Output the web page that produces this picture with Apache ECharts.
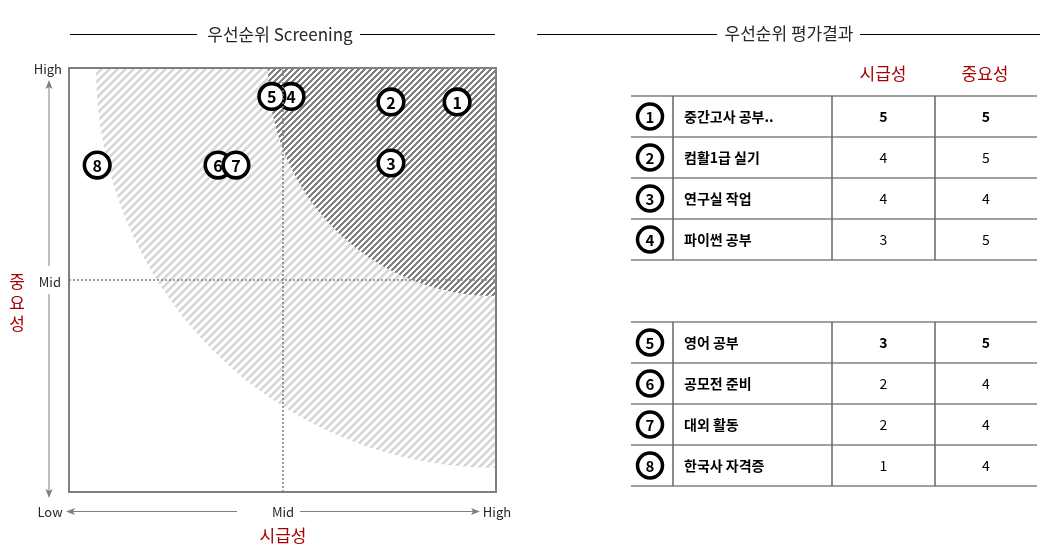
<!DOCTYPE html>
<html><head><meta charset="utf-8">
<script src="https://cdn.jsdelivr.net/npm/echarts@6/dist/echarts.min.js"></script>
<style>html,body{margin:0;padding:0;background:#fff;}#c{width:1046px;height:560px;}</style>
</head><body><div id="c"></div>
<script>
// ---- data ----
const ids = [1, 2, 3, 4, 5, 6, 7, 8];
const names = ['중간고사 공부..', '컴활1급 실기', '연구실 작업', '파이썬 공부', '영어 공부', '공모전 준비', '대외 활동', '한국사 자격증'];
const urgency = [5, 4, 4, 3, 3, 2, 2, 1];      // 시급성
const importance = [5, 5, 4, 5, 5, 4, 4, 4];   // 중요성
// placement on the screening map (0 = Low, 5 = Mid, 10 = High)
const mapX = [9.09, 7.54, 7.54, 5.20, 4.75, 3.49, 3.91, 0.66];
const mapY = [9.20, 9.20, 7.76, 9.33, 9.33, 7.71, 7.71, 7.71];
const zoneRadii = [9.4, 5.36];                 // priority zones measured from top-right corner
const axisTicks = ['Low', 'Mid', 'High'];
const colHeaders = ['시급성', '중요성'];

// ---- styling helpers ----
const FONT = '"Noto Sans CJK KR", "Noto Sans", sans-serif';
const RED = '#a80000';
function stripes(period, width, rgb, bg) {
  const c = document.createElement('canvas');
  c.width = c.height = period;
  const g = c.getContext('2d');
  const img = g.createImageData(period, period);
  for (let y = 0; y < period; y++) {
    for (let x = 0; x < period; x++) {
      const on = ((x + y) % period) < width;
      const o = (y * period + x) * 4;
      if (on) { img.data[o] = rgb[0]; img.data[o + 1] = rgb[1]; img.data[o + 2] = rgb[2]; img.data[o + 3] = 255; }
      else if (bg) { img.data[o] = 255; img.data[o + 1] = 255; img.data[o + 2] = 255; img.data[o + 3] = 255; }
      else { img.data[o + 3] = 0; }
    }
  }
  g.putImageData(img, 0, 0);
  return c;
}
const zoneFills = [
  { image: stripes(8, 4, [217, 217, 217], false), repeat: 'repeat' },
  { image: stripes(6, 3, [128, 128, 128], true), repeat: 'repeat' }
];

const chart = echarts.init(document.getElementById('c'), null, { renderer: 'canvas' });

const colEdges = [42, 201, 304];
const TW = 406;
function tableRender(offset) {
  return function (params, api) {
    const i = offset + params.dataIndex;
    const row = api.value(1);
    const yc = api.coord([0, row])[1];
    const h = api.size([0, 1])[1];
    const X = v => api.coord([v, row])[0];
    const top = yc - h / 2, bot = yc + h / 2;
    const ch = [];
    const hl = { stroke: '#a0a0a0', lineWidth: 2 };
    if (params.dataIndex === 0) ch.push({ type: 'line', shape: { x1: X(0), y1: top, x2: X(TW), y2: top }, style: hl });
    ch.push({ type: 'line', shape: { x1: X(0), y1: bot, x2: X(TW), y2: bot }, style: hl });
    colEdges.forEach(c => ch.push({ type: 'line', shape: { x1: X(c), y1: top, x2: X(c), y2: bot }, style: { stroke: '#666', lineWidth: 1.5 } }));
    ch.push({ type: 'circle', shape: { cx: X(19), cy: yc, r: 12.5 }, style: { fill: '#fff', stroke: '#000', lineWidth: 3.5 } });
    ch.push({ type: 'text', style: { x: X(19), y: yc + 1, text: String(ids[i]), align: 'center', verticalAlign: 'middle', fontSize: 15, fontWeight: 'bold', fontFamily: FONT, fill: '#000' } });
    ch.push({ type: 'text', style: { x: X(53), y: yc, text: names[i], align: 'left', verticalAlign: 'middle', fontSize: 14, fontWeight: 'bold', fontFamily: FONT, fill: '#000' } });
    const bold = (ids[i] === 1 || ids[i] === 5) ? 'bold' : 'normal';
    ch.push({ type: 'text', style: { x: X(252.5), y: yc, text: String(urgency[i]), align: 'center', verticalAlign: 'middle', fontSize: 14, fontWeight: bold, fontFamily: FONT, fill: '#000' } });
    ch.push({ type: 'text', style: { x: X(355), y: yc, text: String(importance[i]), align: 'center', verticalAlign: 'middle', fontSize: 14, fontWeight: bold, fontFamily: FONT, fill: '#000' } });
    return { type: 'group', children: ch };
  };
}

function arrowHead(tx, ty, dir) { // dir: 'l','r','u','d'
  const L = 9, W = 3.5;
  let pts;
  if (dir === 'l') pts = [[tx, ty], [tx + L, ty - W], [tx + L - 2, ty], [tx + L, ty + W]];
  if (dir === 'r') pts = [[tx, ty], [tx - L, ty - W], [tx - L + 2, ty], [tx - L, ty + W]];
  if (dir === 'u') pts = [[tx, ty], [tx - W, ty + L], [tx, ty + L - 2], [tx + W, ty + L]];
  if (dir === 'd') pts = [[tx, ty], [tx - W, ty - L], [tx, ty - L + 2], [tx + W, ty - L]];
  return { type: 'polygon', shape: { points: pts }, style: { fill: '#808080' } };
}
const gl = (x1, y1, x2, y2, color, w) => ({ type: 'line', shape: { x1, y1, x2, y2 }, style: { stroke: color, lineWidth: w } });
const gt = (x, y, text, size, color, align, extra) => ({ type: 'text', x, y, style: Object.assign({ text, fontSize: size, fontFamily: FONT, fill: color, align: align || 'center', verticalAlign: 'middle' }, extra || {}) });

const option = {
  animation: false,
  textStyle: { fontFamily: FONT },
  grid: [
    { left: 69, top: 68, width: 427, height: 424, show: false },
    { left: 631, top: 96, width: TW, height: 164 },
    { left: 631, top: 322, width: TW, height: 164 }
  ],
  xAxis: [
    { gridIndex: 0, type: 'value', min: 0, max: 10, show: false },
    { gridIndex: 1, type: 'value', min: 0, max: TW, show: false },
    { gridIndex: 2, type: 'value', min: 0, max: TW, show: false }
  ],
  yAxis: [
    { gridIndex: 0, type: 'value', min: 0, max: 10, show: false },
    { gridIndex: 1, type: 'category', data: ['0', '1', '2', '3'], inverse: true, show: false },
    { gridIndex: 2, type: 'category', data: ['0', '1', '2', '3'], inverse: true, show: false }
  ],
  series: [
    {
      type: 'custom', xAxisIndex: 0, yAxisIndex: 0, silent: true, z: 1,
      data: zoneRadii.map(r => [10, 10, r]),
      renderItem: function (params, api) {
        const c = api.coord([api.value(0), api.value(1)]);
        const s = api.size([api.value(2), api.value(2)]);
        const r = (s[0] + s[1]) / 2;
        return { type: 'sector', shape: { cx: c[0], cy: c[1], r0: 0, r: r, startAngle: Math.PI / 2, endAngle: Math.PI, clockwise: true }, style: { fill: zoneFills[params.dataIndex] } };
      }
    },
    {
      type: 'custom', xAxisIndex: 0, yAxisIndex: 0, silent: true, z: 3,
      data: [[0, 0, 10, 10]],
      renderItem: function (params, api) {
        const a = api.coord([api.value(0), api.value(3)]);
        const b = api.coord([api.value(2), api.value(1)]);
        return { type: 'rect', shape: { x: a[0], y: a[1], width: b[0] - a[0], height: b[1] - a[1] }, style: { fill: 'none', stroke: '#808080', lineWidth: 2 } };
      },
      markLine: {
        silent: true, symbol: 'none', label: { show: false },
        lineStyle: { type: [2, 2], color: '#7f7f7f', width: 1.5 },
        data: [{ xAxis: 5 }, { yAxis: 5 }]
      }
    },
    {
      type: 'custom', xAxisIndex: 0, yAxisIndex: 0, silent: true, z: 4,
      data: ids.map((id, i) => [mapX[i], mapY[i], id]),
      renderItem: function (params, api) {
        const p = api.coord([api.value(0), api.value(1)]);
        const k = params.dataIndex;
        return {
          type: 'group', children: [
            { type: 'circle', z2: k * 2, shape: { cx: p[0], cy: p[1], r: 12.8 }, style: { fill: '#fff', stroke: '#000', lineWidth: 3.6 } },
            { type: 'text', z2: k * 2 + 1, style: { x: p[0], y: p[1] + 1, text: String(api.value(2)), align: 'center', verticalAlign: 'middle', fontSize: 16, fontWeight: 'bold', fontFamily: FONT, fill: '#000' } }
          ]
        };
      }
    },
    {
      type: 'custom', xAxisIndex: 1, yAxisIndex: 1, silent: true,
      data: [0, 1, 2, 3].map(r => [0, r]),
      renderItem: tableRender(0)
    },
    {
      type: 'custom', xAxisIndex: 2, yAxisIndex: 2, silent: true,
      data: [0, 1, 2, 3].map(r => [0, r]),
      renderItem: tableRender(4)
    }
  ],
  graphic: [
    // left title
    gl(70, 34.5, 197, 34.5, '#000', 1), gl(360, 34.5, 495, 34.5, '#000', 1),
    gt(280, 35, '우선순위 Screening', 17, '#262626'),
    // right title
    gl(537, 34.5, 717, 34.5, '#000', 1), gl(860, 34.5, 1040, 34.5, '#000', 1),
    gt(789, 34, '우선순위 평가결과', 17, '#262626'),
    // table headers
    gt(883, 74, colHeaders[0], 17, RED), gt(985, 74, colHeaders[1], 17, RED),
    // y axis labels and arrow
    gt(62, 69, axisTicks[2], 13, '#262626', 'right'),
    gt(61, 282, axisTicks[1], 13, '#262626', 'right'),
    gl(49, 84, 49, 266, '#808080', 1), gl(49, 294, 49, 494, '#808080', 1),
    arrowHead(49, 80, 'u'), arrowHead(49, 498, 'd'),
    gt(17, 303, '중\n요\n성', 17, RED, 'center', { lineHeight: 21 }),
    // x axis labels and arrow
    gt(50, 512, axisTicks[0], 13, '#262626'),
    gt(283, 512, axisTicks[1], 13, '#262626'),
    gt(497, 512, axisTicks[2], 13, '#262626'),
    gl(70, 511.5, 237, 511.5, '#808080', 1), gl(300, 511.5, 476, 511.5, '#808080', 1),
    arrowHead(66, 511.5, 'l'), arrowHead(480, 511.5, 'r'),
    gt(283, 536, '시급성', 17, RED)
  ]
};
chart.setOption(option);
</script>
</body></html>
